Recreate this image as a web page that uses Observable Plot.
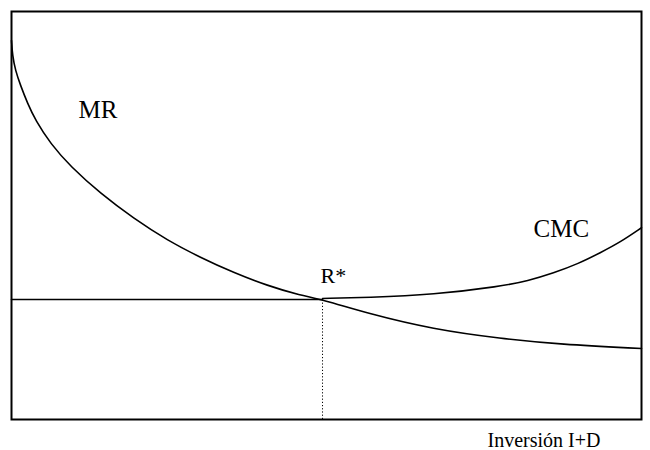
<!DOCTYPE html>
<html>
<head>
<meta charset="utf-8">
<script src="https://cdn.jsdelivr.net/npm/d3@7"></script>
<script src="https://cdn.jsdelivr.net/npm/@observablehq/plot@0.6"></script>
<style>
  html, body { margin: 0; padding: 0; background: #fff; }
  #chart svg { display: block; }
  #chart svg text { font-family: "Liberation Serif", "Times New Roman", Times, Tinos, "Nimbus Roman", "DejaVu Serif", "Noto Serif", serif !important; }
</style>
</head>
<body>
<div id="chart"></div>
<script>
// MR curve (marginal return of R&D investment)
const mrX = [0, 0.16, 0.63, 1.43, 2.54, 3.81, 6.19, 9.37, 14.13, 19.37, 24.76, 30.0, 35.24, 40.63, 45.87, 49.37, 56.51, 66.98, 77.62, 87.14, 100];
const mrY = [92.9, 89.2, 85.5, 81.9, 77.5, 73.3, 67.6, 62.0, 55.4, 49.3, 43.9, 39.7, 36.0, 32.8, 30.4, 29.4, 26.0, 22.1, 19.85, 18.4, 17.4];

// Flat part of CMC up to R*
const flatX = [0, 49.37];
const flatY = [29.41, 29.41];

// Rising part of CMC
const cmcX = [49.37, 56.51, 66.98, 77.62, 82.0, 86.03, 90.0, 93.49, 96.67, 100];
const cmcY = [29.66, 29.9, 30.6, 32.6, 34.0, 35.9, 38.2, 40.9, 43.5, 47.0];

// Optimum R*
const optX = [49.37];
const optY = [29.41];

// Labels
const labelText = ["MR", "CMC", "R*"];
const labelX = [10.63, 82.86, 49.05];
const labelY = [75.74, 46.57, 35.29];
const labelSize = [25, 25, 22];
const axisLabel = "Inversión I+D";

const mr = mrX.map((x, i) => ({x, y: mrY[i]}));
const flat = flatX.map((x, i) => ({x, y: flatY[i]}));
const cmc = cmcX.map((x, i) => ({x, y: cmcY[i]}));
const labels = labelText.map((t, i) => ({t, x: labelX[i], y: labelY[i], s: labelSize[i]}));
const opt = optX.map((x, i) => ({x, y: optY[i]}));

const font = '"Liberation Serif", "Times New Roman", Times, Tinos, "DejaVu Serif", serif';

const chart = Plot.plot({
  width: 650,
  height: 450,
  marginLeft: 11,
  marginRight: 9,
  marginTop: 11,
  marginBottom: 31,
  style: {fontFamily: font, background: "#fff", color: "#000"},
  x: {domain: [0, 100], axis: null},
  y: {domain: [0, 100], axis: null},
  marks: [
    Plot.ruleX(opt, {x: "x", y1: 0, y2: "y", stroke: "#000", strokeWidth: 1, strokeDasharray: "1.2,2"}),
    Plot.line(mr, {x: "x", y: "y", curve: "basis", stroke: "#000", strokeWidth: 1.6}),
    Plot.line(flat, {x: "x", y: "y", stroke: "#000", strokeWidth: 1.6}),
    Plot.line(cmc, {x: "x", y: "y", curve: "basis", stroke: "#000", strokeWidth: 1.6}),
    Plot.frame({stroke: "#000", strokeWidth: 2}),
    ...labels.map(d => Plot.text([d], {x: "x", y: "y", text: "t", textAnchor: "start", lineAnchor: "middle", fontSize: d.s, fontFamily: font, fill: "#000"})),
    Plot.text([axisLabel], {x: 75.56, y: -5.1, text: d => d, textAnchor: "start", lineAnchor: "middle", fontSize: 20, fontFamily: font, fill: "#000"})
  ]
});
document.getElementById("chart").appendChild(chart);
</script>
</body>
</html>
